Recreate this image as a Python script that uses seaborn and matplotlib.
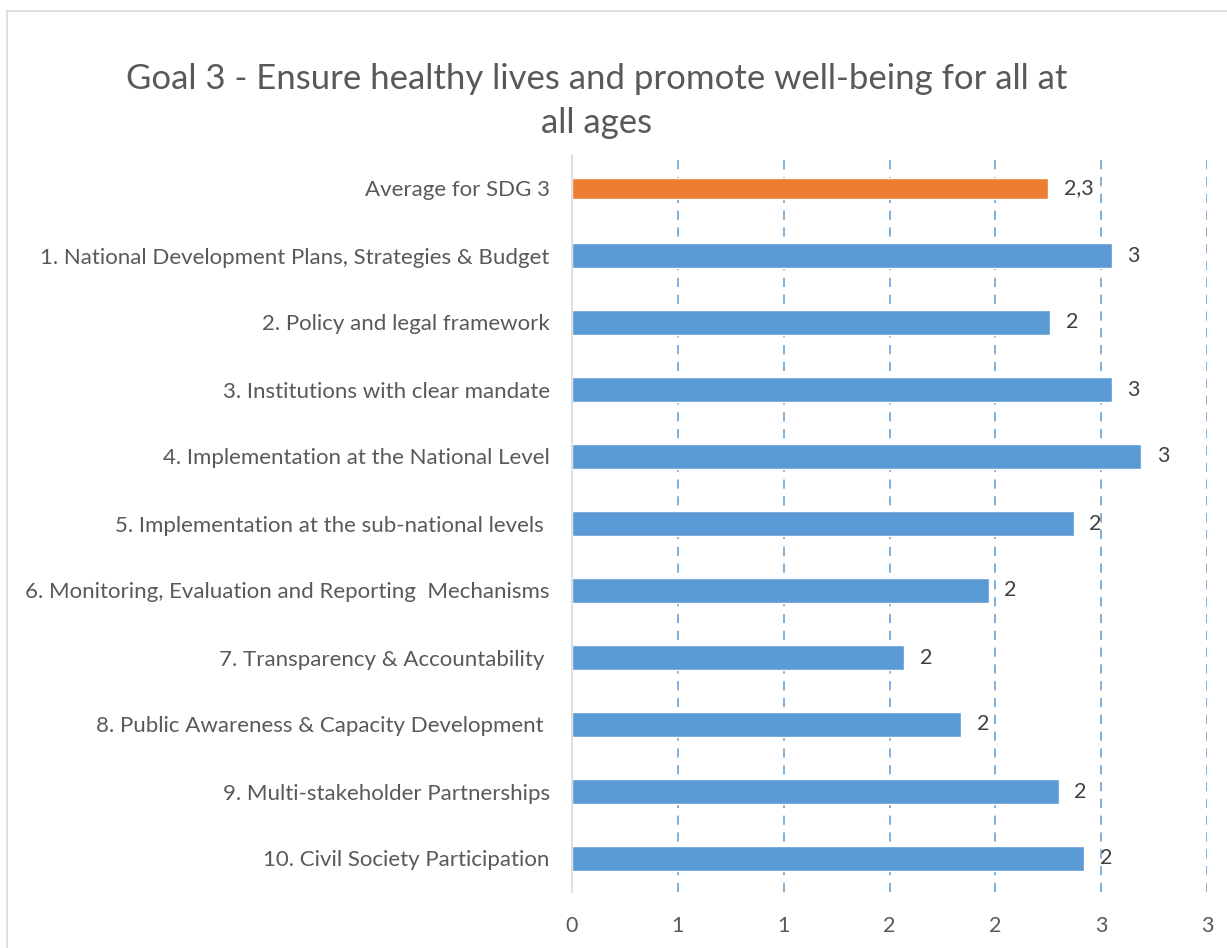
import numpy as np
import pandas as pd
import matplotlib
matplotlib.use("Agg")
import matplotlib.pyplot as plt
from matplotlib.lines import Line2D
from matplotlib.ticker import FixedLocator, FuncFormatter
import seaborn as sns

# Scores per assessment dimension (scale 0-3)
categories = [
    "Average for SDG 3",
    "1. National Development Plans, Strategies & Budget",
    "2. Policy and legal framework",
    "3. Institutions with clear mandate",
    "4. Implementation at the National Level",
    "5. Implementation at the sub-national levels ",
    "6. Monitoring, Evaluation and Reporting  Mechanisms",
    "7. Transparency & Accountability ",
    "8. Public Awareness & Capacity Development ",
    "9. Multi-stakeholder Partnerships",
    "10. Civil Society Participation",
]
scores = [2.25, 2.55, 2.26, 2.55, 2.69, 2.37, 1.97, 1.57, 1.84, 2.30, 2.42]
x_ticks = [0, 0.5, 1.0, 1.5, 2.0, 2.5, 3.0]

title = "Goal 3 - Ensure healthy lives and promote well-being for all at\nall ages"

BLUE = "#5B9BD5"
ORANGE = "#ED7D31"
TEXT = "#595959"
LABEL = "#404040"
FRAME = "#D9D9D9"

sns.set_theme(style="white")
plt.rcParams["font.family"] = ["Lato", "DejaVu Sans"]

df = pd.DataFrame({"category": categories, "score": scores})
df["kind"] = ["average"] + ["dimension"] * (len(categories) - 1)

fig = plt.figure(figsize=(12.27, 9.48), dpi=100)
ax = fig.add_axes([572 / 1227, 1 - 892 / 948, (1207 - 572) / 1227, (892 - 155) / 948])

sns.barplot(data=df[df.kind == "dimension"], x="score", y="category", order=categories,
            color=BLUE, width=0.36, orient="h", ax=ax, saturation=1, zorder=3)
sns.barplot(data=df[df.kind == "average"], x="score", y="category", order=categories,
            color=ORANGE, width=0.30, orient="h", ax=ax, saturation=1, zorder=3)

ax.set_xlim(0, 3)
ax.set_ylim(len(categories) - 0.5, -0.5)


def excel_round(v, nd=0):
    f = 10 ** nd
    return np.floor(v * f + 0.5) / f


ax.xaxis.set_major_locator(FixedLocator(x_ticks))
ax.xaxis.set_major_formatter(FuncFormatter(lambda v, p: f"{int(excel_round(v))}"))
ax.tick_params(axis="x", length=0, pad=17, labelsize=15.5, labelcolor=TEXT)
ax.tick_params(axis="y", length=0, pad=16, labelsize=16, labelcolor=TEXT)
ax.set_xlabel("")
ax.set_ylabel("")

# dashed vertical gridlines
for t in x_ticks[1:]:
    ax.axvline(t, color=BLUE, lw=1.1, ls=(0, (6, 5)), zorder=1)

for s in ["top", "right", "bottom"]:
    ax.spines[s].set_visible(False)
ax.spines["left"].set_color(FRAME)
ax.spines["left"].set_linewidth(1.2)
ax.spines["left"].set_zorder(4)

# value labels
for i, (cat, val) in enumerate(zip(categories, scores)):
    if i == 0:
        txt = f"{excel_round(val, 1):.1f}".replace(".", ",")
    else:
        txt = f"{int(excel_round(val))}"
    ax.annotate(txt, xy=(val, i), xytext=(11, 0), textcoords="offset points",
                va="center", ha="left", fontsize=15.5, color=LABEL, zorder=5)

fig.text(597 / 1227, 1 - 101 / 948, title, ha="center", va="center",
         fontsize=25, color=TEXT, linespacing=1.45)

# chart frame
fig.add_artist(Line2D([7 / 1227, 7 / 1227], [0, 1 - 11 / 948], color=FRAME, lw=1.2,
                      transform=fig.transFigure))
fig.add_artist(Line2D([7 / 1227, 1], [1 - 11 / 948, 1 - 11 / 948], color=FRAME, lw=1.2,
                      transform=fig.transFigure))

fig.savefig("out.png", dpi=100, facecolor="white")
